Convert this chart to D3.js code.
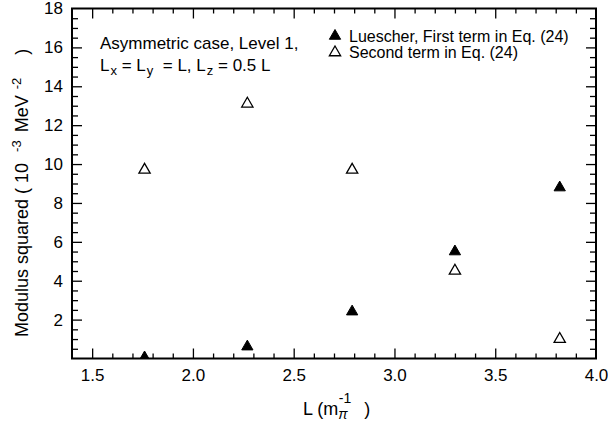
<!DOCTYPE html>
<html><head><meta charset="utf-8">
<script src="https://cdn.jsdelivr.net/npm/d3@7"></script>
<style>
html,body{margin:0;padding:0;background:#fff;}
text{font-family:"Liberation Sans",Arial,Helvetica,sans-serif;fill:#000;}
</style></head>
<body><svg id="chart" width="608" height="423"></svg>
<script>
const L = [1.76, 2.27, 2.79, 3.30, 3.82];
const firstTerm = [0.05, 0.61, 2.41, 5.50, 8.79];
const secondTerm = [9.70, 13.10, 9.70, 4.51, 1.00];
const xMajor = [1.5, 2.0, 2.5, 3.0, 3.5, 4.0];
const xMinor = [1.6,1.7,1.8,1.9,2.1,2.2,2.3,2.4,2.6,2.7,2.8,2.9,3.1,3.2,3.3,3.4,3.6,3.7,3.8,3.9];
const yMajor = [2, 4, 6, 8, 10, 12, 14, 16, 18];
const yMinor = [0.5,1,1.5,2.5,3,3.5,4.5,5,5.5,6.5,7,7.5,8.5,9,9.5,10.5,11,11.5,12.5,13,13.5,14.5,15,15.5,16.5,17,17.5];
const legendLabels = ["Luescher, First term in Eq. (24)", "Second term in Eq. (24)"];

const svg = d3.select("#chart");
const m = {left:72, right:596, top:8.5, bottom:358.5};
const x = d3.scaleLinear().domain([1.4, 4.0]).range([m.left, m.right]);
const y = d3.scaleLinear().domain([0, 18]).range([m.bottom, m.top]);
const W = m.right - m.left, H = m.bottom - m.top;
const FS = 17;

function styleAxis(g){
  g.select(".domain").remove();
  g.selectAll(".tick line").attr("stroke","#000").attr("stroke-width",1.3);
  g.selectAll(".tick text").attr("font-size",FS).attr("font-family",'"Liberation Sans",Arial,sans-serif').attr("fill","#000");
}
// bottom
svg.append("g").attr("transform",`translate(0,${m.bottom})`)
  .call(d3.axisBottom(x).tickValues(xMajor).tickSizeInner(-10).tickSizeOuter(0).tickPadding(10.5).tickFormat(d3.format(".1f")))
  .call(styleAxis).call(g=>g.selectAll(".tick").filter(d=>d>=4).select("line").remove());
svg.append("g").attr("transform",`translate(0,${m.bottom})`)
  .call(d3.axisBottom(x).tickValues(xMinor).tickSizeInner(-5).tickSizeOuter(0).tickFormat(""))
  .call(styleAxis);
// top
svg.append("g").attr("transform",`translate(0,${m.top})`)
  .call(d3.axisTop(x).tickValues(xMajor.filter(d=>d<4)).tickSizeInner(-10).tickSizeOuter(0).tickFormat(""))
  .call(styleAxis);
svg.append("g").attr("transform",`translate(0,${m.top})`)
  .call(d3.axisTop(x).tickValues(xMinor).tickSizeInner(-5).tickSizeOuter(0).tickFormat(""))
  .call(styleAxis);
// left
svg.append("g").attr("transform",`translate(${m.left},0)`)
  .call(d3.axisLeft(y).tickValues(yMajor).tickSizeInner(-10).tickSizeOuter(0).tickPadding(9).tickFormat(d3.format("d")))
  .call(styleAxis).call(g=>g.selectAll(".tick").filter(d=>d>=18).select("line").remove());
svg.append("g").attr("transform",`translate(${m.left},0)`)
  .call(d3.axisLeft(y).tickValues(yMinor).tickSizeInner(-6).tickSizeOuter(0).tickFormat(""))
  .call(styleAxis);
// right
svg.append("g").attr("transform",`translate(${m.right},0)`)
  .call(d3.axisRight(y).tickValues(yMajor.filter(d=>d<18)).tickSizeInner(-10).tickSizeOuter(0).tickFormat(""))
  .call(styleAxis);
svg.append("g").attr("transform",`translate(${m.right},0)`)
  .call(d3.axisRight(y).tickValues(yMinor).tickSizeInner(-6).tickSizeOuter(0).tickFormat(""))
  .call(styleAxis);

// clip
svg.append("clipPath").attr("id","clip").append("rect")
  .attr("x",m.left).attr("y",m.top).attr("width",W).attr("height",H);

const tri = d3.symbol(d3.symbolTriangle, 55);
const pts = svg.append("g").attr("clip-path","url(#clip)");
pts.selectAll(".f").data(L.map((l,i)=>[l, firstTerm[i]])).join("path")
  .attr("d",tri).attr("transform",d=>`translate(${x(d[0])},${y(d[1])})`)
  .attr("fill","#000").attr("stroke","#000").attr("stroke-width",1);
pts.selectAll(".o").data(L.map((l,i)=>[l, secondTerm[i]])).join("path")
  .attr("d",tri).attr("transform",d=>`translate(${x(d[0])},${y(d[1])})`)
  .attr("fill","#fff").attr("stroke","#000").attr("stroke-width",1.3);

// frame
svg.append("rect").attr("x",m.left).attr("y",m.top).attr("width",W).attr("height",H)
  .attr("fill","none").attr("stroke","#000").attr("stroke-width",2);

// legend
const lg = svg.append("g");
legendLabels.forEach((lab,i)=>{
  const yy = 36 + i*16.5;
  lg.append("path").attr("d",tri).attr("transform",`translate(335,${yy})`)
    .attr("fill", i===0 ? "#000" : "#fff").attr("stroke","#000").attr("stroke-width", i===0?1:1.3);
  lg.append("text").attr("x",349).attr("y",yy+5.5).attr("font-size",16).text(lab);
});

// annotation
svg.append("text").attr("x",100).attr("y",49).attr("font-size",FS).text("Asymmetric case, Level 1,");
const t2 = svg.append("text").attr("x",100).attr("y",71).attr("font-size",FS).style("white-space","pre");
const parts = [["L",0],["x",1],[" = L",0],["y",1],["  = L, L",0],["z",1],[" = 0.5 L",0]];
parts.forEach(([s,sub],i)=>{
  const ts = t2.append("tspan").text(s);
  if(sub){ ts.attr("font-size",13).attr("dy",4).attr("dx",1); }
  else if(i>0){ ts.attr("dy",-4); }
});

// y axis title (rotated, reads bottom to top)
const yt = svg.append("text").attr("transform",`translate(28,337) rotate(-90)`)
  .attr("font-size",18).style("white-space","pre");
yt.append("tspan").text("Modulus squared ( 10");
yt.append("tspan").text("-3").attr("font-size",13).attr("dx",11).attr("dy",-7);
yt.append("tspan").text("MeV").attr("dx",8).attr("dy",7);
yt.append("tspan").text("-2").attr("font-size",13).attr("dx",6).attr("dy",-7);
yt.append("tspan").text(")").attr("dx",23).attr("dy",7);

// x axis title
const xt = svg.append("text").attr("x",303).attr("y",415).attr("font-size",18).style("white-space","pre");
xt.append("tspan").text("L (m");
xt.append("tspan").text("π").attr("font-size",14).attr("font-style","italic").attr("dy",4);
xt.append("tspan").text("-1").attr("font-size",14).attr("dx",-9).attr("dy",-16);
xt.append("tspan").text(")").attr("dx",13).attr("dy",12);
</script></body></html>
